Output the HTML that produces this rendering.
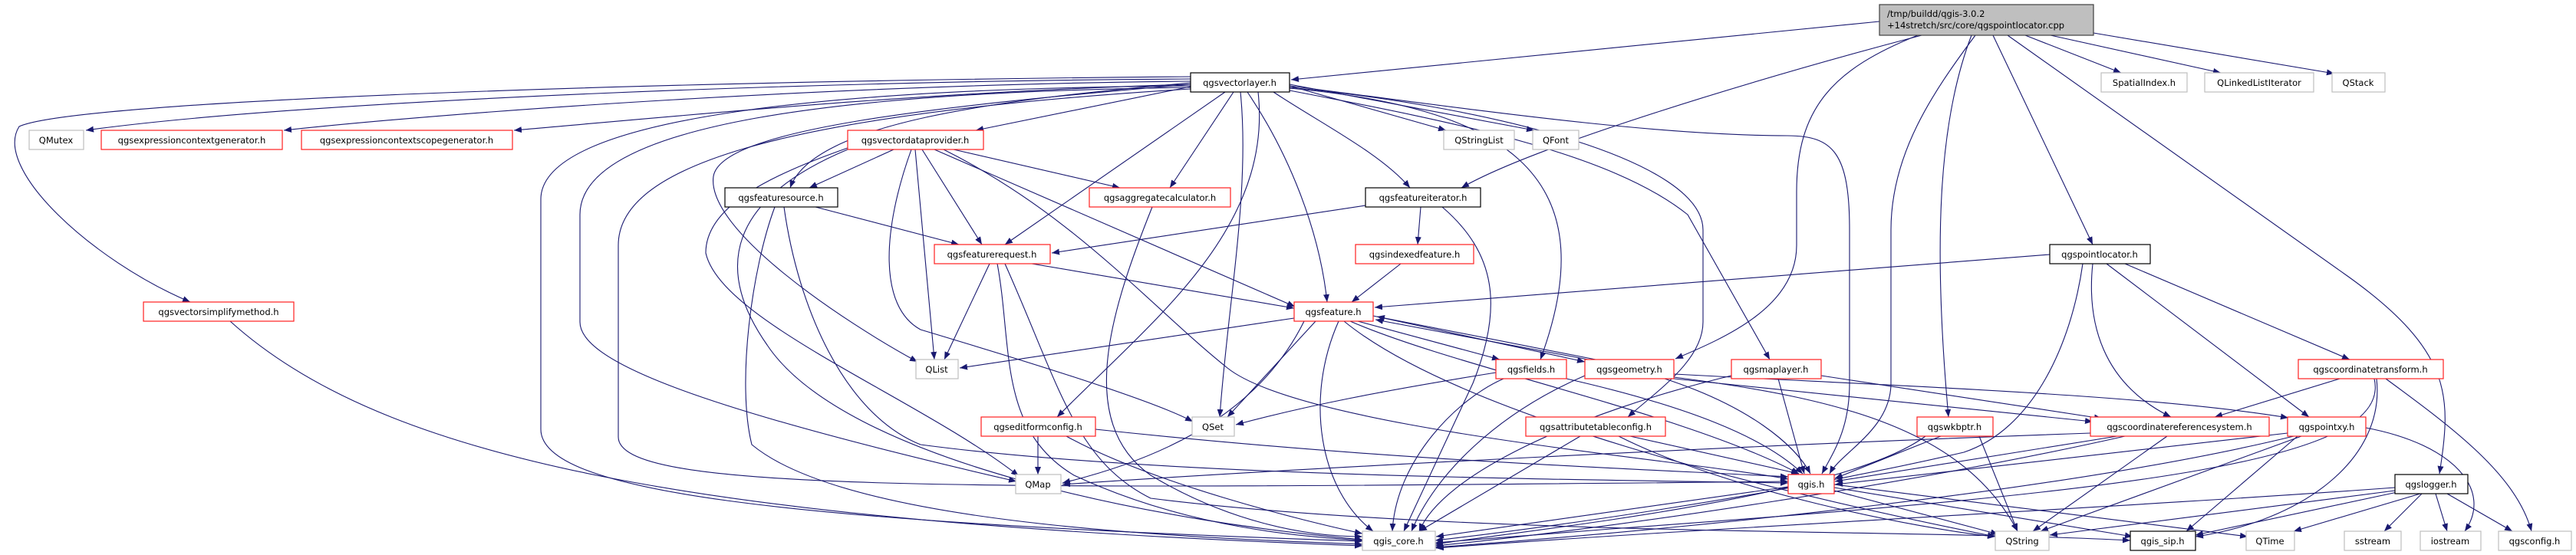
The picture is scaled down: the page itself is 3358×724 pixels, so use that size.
<!DOCTYPE html>
<html><head><meta charset="utf-8"><style>
html,body{margin:0;padding:0;background:#fff;}
svg{display:block;}
text{font-family:"DejaVu Sans","Liberation Sans",sans-serif;font-size:11.5px;fill:#000;}
.e{fill:none;stroke:#191970;stroke-width:1.1;marker-end:url(#a);}
.k{fill:#fff;stroke:#000;stroke-width:1.2;}
.r{fill:#fff;stroke:#ff2020;stroke-width:1.2;}
.g{fill:#fff;stroke:#bfbfbf;stroke-width:1.2;}
</style></head><body>
<svg width="3358" height="724" viewBox="0 0 3358 724" xmlns="http://www.w3.org/2000/svg">
<defs><marker id="a" markerUnits="userSpaceOnUse" markerWidth="11" markerHeight="8" refX="10" refY="4" orient="auto"><path d="M0,0 L10,4 L0,8 z" fill="#191970"/></marker></defs>
<g>
<path class="e" d="M2450,28 L1683,104"/>
<path class="e" d="M2505,46 C2300,100 2000,190 1905,245"/>
<path class="e" d="M2640,46 L2765,95"/>
<path class="e" d="M2673,46 L2895,95"/>
<path class="e" d="M2729,43 L3043,96"/>
<path class="e" d="M2598,46 L2728,319"/>
<path class="e" d="M2617,46 L3060,360 C3200,460 3195,520 3180,618"/>
<path class="e" d="M2575,46 C2520,120 2465,200 2465,300 L2465,500 C2465,560 2400,590 2385,618"/>
<path class="e" d="M2500,46 C2390,90 2342,140 2342,250 L2342,320 C2342,400 2250,440 2184,468"/>
<path class="e" d="M2570,46 C2530,150 2518,300 2540,544"/>
<path class="e" d="M1552,103 C1100,105 400,130 112,170"/>
<path class="e" d="M1552,106 C1100,110 600,145 370,170"/>
<path class="e" d="M1552,110 C1200,120 900,150 670,170"/>
<path class="e" d="M1552,100 C900,105 100,130 25,165 C-10,220 120,340 248,394"/>
<path class="e" d="M1552,112 C1100,115 705,150 705,260 L705,560 C705,640 1000,680 1776,706"/>
<path class="e" d="M1552,114 C1100,120 756,160 756,280 L756,420 C756,470 900,530 1325,628"/>
<path class="e" d="M1552,116 C1000,150 806,220 806,320 L806,570 C806,640 1200,640 2331,628"/>
<path class="e" d="M1552,113 L1272,170"/>
<path class="e" d="M1552,108 C1300,130 1060,160 1030,245"/>
<path class="e" d="M1552,110 C1200,140 940,170 930,230 C920,300 1100,420 1196,472"/>
<path class="e" d="M1608,120 L1525,245"/>
<path class="e" d="M1597,120 L1310,319"/>
<path class="e" d="M1617,120 C1630,250 1600,400 1590,544"/>
<path class="e" d="M1626,120 C1680,200 1720,300 1730,394"/>
<path class="e" d="M1681,112 L1885,170"/>
<path class="e" d="M1681,110 L2000,170"/>
<path class="e" d="M1660,120 C1720,160 1800,200 1838,245"/>
<path class="e" d="M1681,115 C1950,140 2100,220 2008,469"/>
<path class="e" d="M1681,118 C1900,160 2100,200 2200,280 L2307,469"/>
<path class="e" d="M1681,114 C1950,140 2220,210 2220,300 L2220,420 C2220,470 2160,510 2122,544"/>
<path class="e" d="M1681,112 C1900,140 2150,177 2330,177 C2390,177 2411,200 2411,300 L2411,500 C2411,560 2390,590 2375,618"/>
<path class="e" d="M1640,120 C1660,300 1500,420 1378,544"/>
<path class="e" d="M1165,195 L1055,245"/>
<path class="e" d="M1243,195 L1460,245"/>
<path class="e" d="M1202,195 L1280,319"/>
<path class="e" d="M1218,195 L1688,400"/>
<path class="e" d="M1193,195 L1218,469"/>
<path class="e" d="M1188,195 C1150,300 1145,400 1200,430 C1300,460 1500,520 1555,550"/>
<path class="e" d="M1105,193 C1000,230 920,270 920,330 C940,420 1200,520 1328,621"/>
<path class="e" d="M1105,195 C950,260 930,350 1000,450 C1100,600 1500,680 1776,704"/>
<path class="e" d="M1230,195 C1400,280 1500,400 1600,480 C1700,560 2200,600 2331,625"/>
<path class="e" d="M1063,270 L1250,319"/>
<path class="e" d="M1010,270 C980,350 960,500 980,580 C1100,680 1500,700 1776,710"/>
<path class="e" d="M1022,270 C1040,400 1100,540 1200,580 C1500,620 2000,625 2331,630"/>
<path class="e" d="M1502,270 C1450,400 1400,550 1500,620 C1600,680 1700,700 1776,700"/>
<path class="e" d="M1780,268 L1371,330"/>
<path class="e" d="M1852,270 L1848,319"/>
<path class="e" d="M1880,270 C1950,330 1960,400 1920,500 L1830,693"/>
<path class="e" d="M1826,344 L1762,394"/>
<path class="e" d="M1345,344 L1687,402"/>
<path class="e" d="M1290,344 L1231,469"/>
<path class="e" d="M1300,344 C1320,450 1300,560 1400,620 C1550,690 1700,700 1776,705"/>
<path class="e" d="M1310,344 C1380,500 1400,600 1500,650 C1900,700 2500,690 2777,705"/>
<path class="e" d="M2672,332 L1792,401"/>
<path class="e" d="M2728,344 C2720,420 2740,500 2830,544"/>
<path class="e" d="M2746,344 L3010,544"/>
<path class="e" d="M2770,344 L3063,469"/>
<path class="e" d="M2715,344 C2700,450 2650,560 2560,590 C2300,650 2000,690 1871,705"/>
<path class="e" d="M1687,415 L1251,480"/>
<path class="e" d="M1715,419 L1600,544"/>
<path class="e" d="M1700,419 C1650,520 1550,590 1385,630"/>
<path class="e" d="M1745,419 C1700,520 1720,640 1790,693"/>
<path class="e" d="M1770,419 L1955,469"/>
<path class="e" d="M1790,412 L2066,472"/>
<path class="e" d="M2070,469 L1793,417"/>
<path class="e" d="M2080,469 L1795,413"/>
<path class="e" d="M1760,419 C1900,480 2200,540 2345,618"/>
<path class="e" d="M1752,419 C1900,540 2300,640 2601,700"/>
<path class="e" d="M1950,486 C1800,510 1700,530 1611,554"/>
<path class="e" d="M1960,494 C1900,520 1820,600 1815,693"/>
<path class="e" d="M2042,494 C2200,530 2300,570 2350,618"/>
<path class="e" d="M2066,490 C1950,540 1870,620 1840,693"/>
<path class="e" d="M2170,494 C2280,530 2340,580 2360,618"/>
<path class="e" d="M2182,492 C2400,520 2560,560 2630,693"/>
<path class="e" d="M2182,488 C2500,505 2800,515 2983,545"/>
<path class="e" d="M2182,494 L2728,550"/>
<path class="e" d="M2257,490 C2050,540 1880,620 1850,693"/>
<path class="e" d="M2318,494 L2352,618"/>
<path class="e" d="M2374,490 L2740,546"/>
<path class="e" d="M3050,494 L2887,544"/>
<path class="e" d="M3098,494 C3110,600 3000,680 2862,700"/>
<path class="e" d="M3110,494 C3200,560 3280,620 3300,693"/>
<path class="e" d="M3095,494 C3120,600 2800,640 2100,690 L1871,708"/>
<path class="e" d="M1353,569 L1353,619"/>
<path class="e" d="M1390,569 C1500,630 1700,680 1776,696"/>
<path class="e" d="M1428,560 C1800,600 2100,610 2331,622"/>
<path class="e" d="M2060,569 L1850,693"/>
<path class="e" d="M2125,569 L2345,618"/>
<path class="e" d="M2110,569 C2250,640 2500,690 2601,700"/>
<path class="e" d="M2530,569 L2392,624"/>
<path class="e" d="M2510,569 C2400,650 2000,690 1871,710"/>
<path class="e" d="M2580,569 L2630,693"/>
<path class="e" d="M2725,565 C2300,580 1700,610 1385,632"/>
<path class="e" d="M2770,569 C2500,630 2100,690 1871,712"/>
<path class="e" d="M2760,569 L2392,628"/>
<path class="e" d="M2825,569 L2650,693"/>
<path class="e" d="M2982,565 L2392,632"/>
<path class="e" d="M2990,569 C2700,640 2200,690 1871,714"/>
<path class="e" d="M3000,569 L2660,693"/>
<path class="e" d="M3084,558 C3200,580 3250,640 3213,693"/>
<path class="e" d="M2995,569 L2850,693"/>
<path class="e" d="M2331,635 L1872,700"/>
<path class="e" d="M2391,640 L2605,697"/>
<path class="e" d="M2391,636 L2780,700"/>
<path class="e" d="M2391,632 L2930,700"/>
<path class="e" d="M3122,636 C2800,660 2200,690 1872,715"/>
<path class="e" d="M3122,640 L2672,698"/>
<path class="e" d="M3125,642 L2862,698"/>
<path class="e" d="M3155,644 L2990,693"/>
<path class="e" d="M3157,644 L3108,693"/>
<path class="e" d="M3175,644 L3190,693"/>
<path class="e" d="M3190,644 L3275,693"/>
<path class="e" d="M300,419 C500,600 900,680 1776,712"/>
</g>
<g text-anchor="middle">
<rect x="2450" y="6" width="279" height="40" fill="#bfbfbf" stroke="#404040" stroke-width="1.2"/>
<text x="2460" y="22" text-anchor="start">/tmp/buildd/qgis-3.0.2</text>
<text x="2460" y="37" text-anchor="start">+14stretch/src/core/qgspointlocator.cpp</text>

<rect class="k" x="1552" y="95" width="129" height="25"/><text x="1616" y="112">qgsvectorlayer.h</text>
<rect class="g" x="2739" y="95" width="112" height="25"/><text x="2795" y="112">SpatialIndex.h</text>
<rect class="g" x="2874" y="95" width="142" height="25"/><text x="2945" y="112">QLinkedListIterator</text>
<rect class="g" x="3040" y="95" width="69" height="25"/><text x="3074" y="112">QStack</text>

<rect class="g" x="38" y="170" width="71" height="25"/><text x="73" y="187">QMutex</text>
<rect class="r" x="132" y="170" width="236" height="25"/><text x="250" y="187">qgsexpressioncontextgenerator.h</text>
<rect class="r" x="393" y="170" width="275" height="25"/><text x="530" y="187">qgsexpressioncontextscopegenerator.h</text>
<rect class="r" x="1105" y="170" width="177" height="25"/><text x="1193" y="187">qgsvectordataprovider.h</text>
<rect class="g" x="1882" y="170" width="92" height="25"/><text x="1928" y="187">QStringList</text>
<rect class="g" x="1998" y="170" width="60" height="25"/><text x="2028" y="187">QFont</text>

<rect class="k" x="945" y="245" width="147" height="25"/><text x="1018" y="262">qgsfeaturesource.h</text>
<rect class="r" x="1420" y="245" width="184" height="25"/><text x="1512" y="262">qgsaggregatecalculator.h</text>
<rect class="k" x="1780" y="245" width="150" height="25"/><text x="1855" y="262">qgsfeatureiterator.h</text>

<rect class="r" x="1218" y="319" width="151" height="25"/><text x="1293" y="336">qgsfeaturerequest.h</text>
<rect class="r" x="1767" y="319" width="154" height="25"/><text x="1844" y="336">qgsindexedfeature.h</text>
<rect class="k" x="2672" y="319" width="131" height="25"/><text x="2737" y="336">qgspointlocator.h</text>

<rect class="r" x="187" y="394" width="196" height="25"/><text x="285" y="411">qgsvectorsimplifymethod.h</text>
<rect class="r" x="1687" y="394" width="103" height="25"/><text x="1738" y="411">qgsfeature.h</text>

<rect class="g" x="1194" y="469" width="55" height="25"/><text x="1221" y="486">QList</text>
<rect class="r" x="1950" y="469" width="92" height="25"/><text x="1996" y="486">qgsfields.h</text>
<rect class="r" x="2066" y="469" width="116" height="25"/><text x="2124" y="486">qgsgeometry.h</text>
<rect class="r" x="2257" y="469" width="117" height="25"/><text x="2315" y="486">qgsmaplayer.h</text>
<rect class="r" x="2996" y="469" width="189" height="25"/><text x="3090" y="486">qgscoordinatetransform.h</text>

<rect class="r" x="1279" y="544" width="149" height="25"/><text x="1353" y="561">qgseditformconfig.h</text>
<rect class="g" x="1554" y="544" width="55" height="25"/><text x="1581" y="561">QSet</text>
<rect class="r" x="1989" y="544" width="182" height="25"/><text x="2080" y="561">qgsattributetableconfig.h</text>
<rect class="r" x="2499" y="544" width="99" height="25"/><text x="2548" y="561">qgswkbptr.h</text>
<rect class="r" x="2725" y="544" width="233" height="25"/><text x="2841" y="561">qgscoordinatereferencesystem.h</text>
<rect class="r" x="2982" y="544" width="102" height="25"/><text x="3033" y="561">qgspointxy.h</text>

<rect class="g" x="1324" y="619" width="59" height="25"/><text x="1353" y="636">QMap</text>
<rect class="r" x="2331" y="619" width="60" height="25"/><text x="2361" y="636">qgis.h</text>
<rect class="k" x="3122" y="619" width="95" height="25"/><text x="3169" y="636">qgslogger.h</text>

<rect class="g" x="1776" y="693" width="95" height="25"/><text x="1823" y="710">qgis_core.h</text>
<rect class="g" x="2601" y="693" width="70" height="25"/><text x="2636" y="710">QString</text>
<rect class="k" x="2777" y="693" width="85" height="25"/><text x="2819" y="710">qgis_sip.h</text>
<rect class="g" x="2928" y="693" width="63" height="25"/><text x="2959" y="710">QTime</text>
<rect class="g" x="3056" y="693" width="74" height="25"/><text x="3093" y="710">sstream</text>
<rect class="g" x="3155" y="693" width="79" height="25"/><text x="3194" y="710">iostream</text>
<rect class="g" x="3257" y="693" width="95" height="25"/><text x="3304" y="710">qgsconfig.h</text>
</g>
</svg>
</body></html>
